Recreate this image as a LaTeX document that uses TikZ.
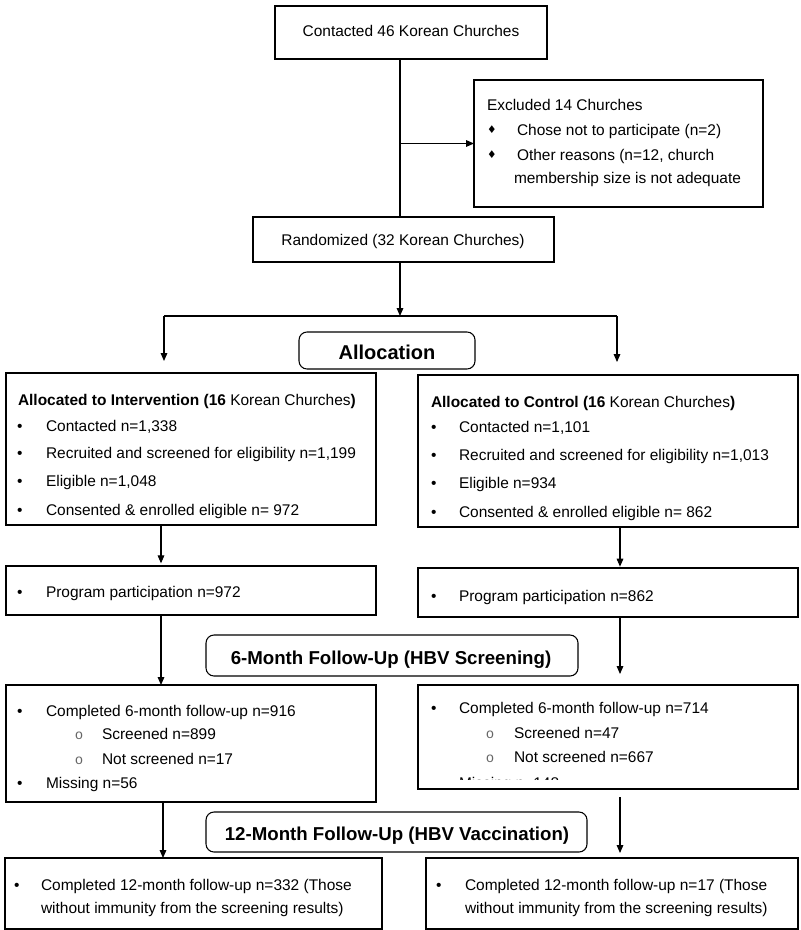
\documentclass[tikz,border=0pt]{standalone}
\usepackage{fontspec}
\setmainfont{Liberation Sans}
\newfontfamily\diamfont{DejaVu Sans}
\newfontfamily\subbulfont{Liberation Mono}
\usetikzlibrary{arrows.meta,fit}
\newcommand\bodyfont{\fontsize{11.6}{14}\selectfont}
\newcommand\headfont{\fontsize{14}{17}\selectfont\bfseries}
\newcommand\allocfont{\fontsize{15}{18}\selectfont\bfseries}
\begin{document}
\begin{tikzpicture}[x=0.75pt,y=-0.75pt,
  box/.style={draw, line width=0.8pt, inner sep=0pt, outer sep=0pt},
  rbox/.style={box, rounded corners=6pt},
  arr/.style={line width=0.8pt, -{Triangle[length=6pt,width=5pt]}},
  ln/.style={line width=0.8pt},
  txt/.style={inner sep=0pt, outer sep=0pt, anchor=base west, font=\bodyfont},
  hd/.style={inner sep=0pt, outer sep=0pt, anchor=base, font=\headfont},
  dia/.style={inner sep=0pt, outer sep=0pt, anchor=center, font=\diamfont\fontsize{8}{9}\selectfont},
  sub/.style={inner sep=0pt, outer sep=0pt, anchor=base, text=black!60, font=\subbulfont\fontsize{10.5}{11}\selectfont}
]
\useasboundingbox (0,0) rectangle (800,930);
\fill[white] (0,0) rectangle (800,930);

% ---------- boxes ----------
\node[box, fit={(275,6) (547,59)}] (top) {};
\node[box, fit={(474,80) (763,207)}] (excl) {};
\node[box, fit={(253,217) (554,262)}] (rand) {};
\node[rbox, fit={(299,332) (475,369)}] (alloc) {};
\node[box, fit={(6,373) (376,525)}] (intv) {};
\node[box, fit={(418,375) (798,527)}] (ctrl) {};
\node[box, fit={(6,566) (376,615)}] (progL) {};
\node[box, fit={(418,568) (798,617)}] (progR) {};
\node[rbox, fit={(206,635) (578,676)}] (six) {};
\node[box, fit={(6,685) (376,802)}] (sixL) {};
\node[box, fit={(418,685) (798,789)}] (sixR) {};
\node[rbox, fit={(206,812) (587,852)}] (twelve) {};
\node[box, fit={(5,858) (382,929)}] (finL) {};
\node[box, fit={(426,858) (798,929)}] (finR) {};

% ---------- texts ----------
\node[txt, anchor=base] (ttop) at (411,36.5) {Contacted 46 Korean Churches};

\node[txt] (te0) at (487,110.5) {Excluded 14 Churches};
\node[dia] (d1) at (492,130) {♦};
\node[txt] (te1) at (517,135.5) {Chose not to participate (n=2)};
\node[dia] (d2) at (492,155) {♦};
\node[txt] (te2) at (517,160.5) {Other reasons (n=12, church};
\node[txt] (te3) at (514,183.5) {membership size is not adequate};

\node[txt, anchor=base] (trand) at (403,245.5) {Randomized (32 Korean Churches)};

\node[hd, font=\allocfont] (talloc) at (387,359.5) {Allocation};

\begin{scope}
\clip (6,373) rectangle (376,519);
\node[txt] (ti0) at (18,405.5) {\bfseries Allocated to Intervention (16 \mdseries Korean Churches\bfseries )};
\node[txt] (bi1) at (17,431) {•};
\node[txt] (ti1) at (46,431) {Contacted n=1,338};
\node[txt] (bi2) at (17,458.5) {•};
\node[txt] (ti2) at (46,458.5) {Recruited and screened for eligibility n=1,199};
\node[txt] (bi3) at (17,486.5) {•};
\node[txt] (ti3) at (46,486.5) {Eligible n=1,048};
\node[txt] (bi4) at (17,515.5) {•};
\node[txt] (ti4) at (46,515.5) {Consented \& enrolled eligible n= 972};
\end{scope}

\begin{scope}
\clip (418,375) rectangle (798,521);
\node[txt] (tc0) at (431,407.5) {\bfseries Allocated to Control (16 \mdseries Korean Churches\bfseries )};
\node[txt] (bc1) at (431,432.5) {•};
\node[txt] (tc1) at (459,432.5) {Contacted n=1,101};
\node[txt] (bc2) at (431,460.5) {•};
\node[txt] (tc2) at (459,460.5) {Recruited and screened for eligibility n=1,013};
\node[txt] (bc3) at (431,488.5) {•};
\node[txt] (tc3) at (459,488.5) {Eligible n=934};
\node[txt] (bc4) at (431,517.5) {•};
\node[txt] (tc4) at (459,517.5) {Consented \& enrolled eligible n= 862};
\end{scope}

\node[txt] (bpl) at (17,597.5) {•};
\node[txt] (tpl) at (46,597.5) {Program participation n=972};
\node[txt] (bpr) at (431,601.5) {•};
\node[txt] (tpr) at (459,601.5) {Program participation n=862};

\node[hd] (tsix) at (391,664) {6-Month Follow-Up (HBV Screening)};

\begin{scope}
\clip (6,685) rectangle (376,791);
\node[txt] (bsl1) at (17,716.5) {•};
\node[txt] (tsl1) at (46,716.5) {Completed 6-month follow-up n=916};
\node[sub] (osl2) at (79,739.5) {o};
\node[txt] (tsl2) at (102,739.5) {Screened n=899};
\node[sub] (osl3) at (79,764.5) {o};
\node[txt] (tsl3) at (102,764.5) {Not screened n=17};
\node[txt] (bsl4) at (17,788.5) {•};
\node[txt] (tsl4) at (46,788.5) {Missing n=56};
\end{scope}

\begin{scope}
\clip (418,685) rectangle (798,779.5);
\node[txt] (bsr1) at (431,713.5) {•};
\node[txt] (tsr1) at (459,713.5) {Completed 6-month follow-up n=714};
\node[sub] (osr2) at (490,738) {o};
\node[txt] (tsr2) at (514,738) {Screened n=47};
\node[sub] (osr3) at (490,762.5) {o};
\node[txt] (tsr3) at (514,762.5) {Not screened n=667};
\node[txt] (bsr4) at (431,788.5) {•};
\node[txt] (tsr4) at (459,788.5) {Missing n=148};
\end{scope}

\node[hd] (ttw) at (397,840) {12-Month Follow-Up (HBV Vaccination)};

\node[txt] (bfl) at (14,890.5) {•};
\node[txt] (tfl1) at (41,890.5) {Completed 12-month follow-up n=332 (Those};
\node[txt] (tfl2) at (41,913.8) {without immunity from the screening results)};
\node[txt] (bfr) at (436,890.5) {•};
\node[txt] (tfr1) at (465,890.5) {Completed 12-month follow-up n=17 (Those};
\node[txt] (tfr2) at (465,913.8) {without immunity from the screening results)};

% ---------- connectors ----------
\coordinate (spine) at (400,0);
\draw[ln] (spine |- top.south) -- (spine |- rand.north);
\draw[arr] (spine |- excl.west) -- (excl.west);
\coordinate (split) at (400,316);
\draw[arr] (spine |- rand.south) -- (split);
\coordinate (hl) at (164,316);
\coordinate (hr) at (617,316);
\coordinate (hlend) at (164,361);
\coordinate (hrend) at (617,362);
\draw[ln] (hl) -- (hr);
\draw[arr] (hl) -- (hlend);
\draw[arr] (hr) -- (hrend);

\coordinate (colL) at (161,0);
\coordinate (colR) at (620,0);
\draw[arr] (colL |- intv.south) -- ([yshift=2pt]colL |- progL.north);
\draw[arr] (colR |- ctrl.south) -- ([yshift=1pt]colR |- progR.north);
\draw[arr] (colL |- progL.south) -- (colL |- sixL.north);
\coordinate (rEnd1) at (620,674);
\draw[arr] (colR |- progR.south) -- (rEnd1);
\coordinate (colL2) at (163,0);
\draw[arr] (colL2 |- sixL.south) -- (colL2 |- finL.north);
\coordinate (rStart2) at (620,797);
\coordinate (rEnd2) at (620,853);
\draw[arr] (rStart2) -- (rEnd2);
\end{tikzpicture}
\end{document}
